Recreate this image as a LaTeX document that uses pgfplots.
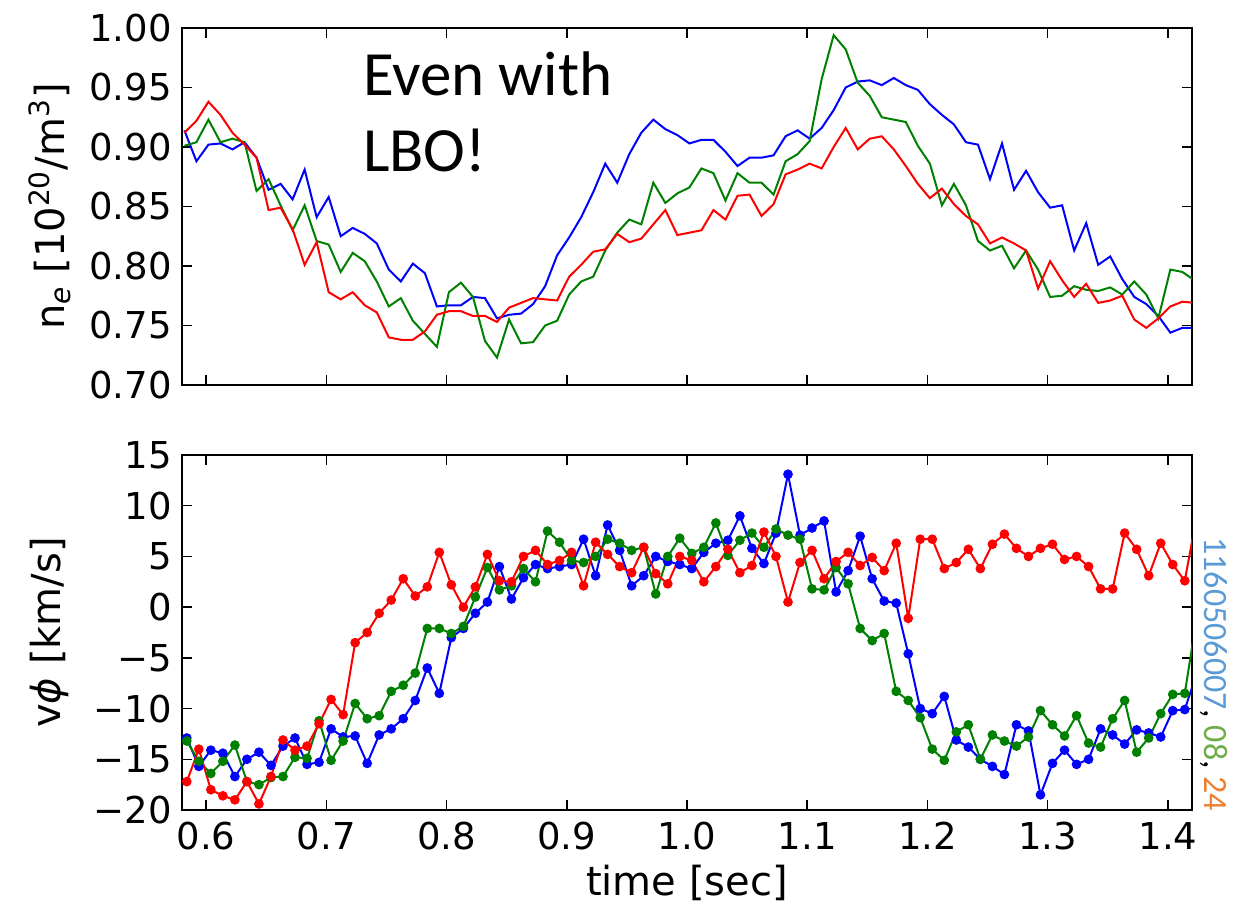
\documentclass[border=0pt]{standalone}
\usepackage{fontspec}
\setmainfont{DejaVu Sans}
\newfontfamily\calibri{Carlito}
\usepackage{pgfplots}
\pgfplotsset{compat=1.18}
\usepackage{pgfplotstable}

\definecolor{mplblue}{rgb}{0,0,1}
\definecolor{mplgreen}{rgb}{0,0.5,0}
\definecolor{mplred}{rgb}{1,0,0}
\definecolor{offblue}{HTML}{5B9BD5}
\definecolor{offgreen}{HTML}{70AD47}
\definecolor{offorange}{HTML}{ED7D31}

\pgfplotstableread{
t b g r
0.582 0.914 0.901 0.912
0.592 0.888 0.904 0.922
0.602 0.902 0.923 0.938
0.612 0.903 0.904 0.927
0.622 0.898 0.907 0.912
0.632 0.904 0.904 0.902
0.642 0.891 0.863 0.891
0.652 0.864 0.873 0.847
0.662 0.869 0.851 0.849
0.672 0.856 0.830 0.831
0.682 0.881 0.851 0.801
0.692 0.841 0.821 0.820
0.702 0.858 0.818 0.778
0.712 0.825 0.795 0.772
0.722 0.832 0.811 0.778
0.732 0.827 0.804 0.767
0.742 0.819 0.787 0.761
0.752 0.797 0.766 0.740
0.762 0.787 0.773 0.738
0.772 0.802 0.754 0.738
0.782 0.794 0.743 0.745
0.792 0.766 0.732 0.759
0.802 0.767 0.778 0.762
0.812 0.767 0.786 0.762
0.822 0.774 0.774 0.758
0.832 0.773 0.737 0.758
0.842 0.756 0.723 0.753
0.852 0.759 0.755 0.765
0.862 0.760 0.735 0.769
0.872 0.768 0.736 0.773
0.882 0.783 0.750 0.772
0.892 0.809 0.754 0.771
0.902 0.824 0.776 0.791
0.912 0.841 0.787 0.801
0.922 0.862 0.791 0.812
0.932 0.886 0.813 0.814
0.942 0.870 0.828 0.827
0.952 0.894 0.839 0.820
0.962 0.912 0.835 0.823
0.972 0.923 0.870 0.835
0.982 0.915 0.853 0.847
0.992 0.910 0.861 0.826
1.002 0.903 0.866 0.828
1.012 0.906 0.882 0.830
1.022 0.906 0.878 0.847
1.032 0.896 0.855 0.839
1.042 0.884 0.878 0.859
1.052 0.891 0.870 0.860
1.062 0.891 0.870 0.842
1.072 0.893 0.860 0.852
1.082 0.909 0.888 0.877
1.092 0.914 0.894 0.881
1.102 0.907 0.905 0.886
1.112 0.916 0.957 0.882
1.122 0.931 0.994 0.900
1.132 0.950 0.982 0.916
1.142 0.955 0.954 0.898
1.152 0.956 0.943 0.907
1.162 0.952 0.925 0.909
1.172 0.958 0.923 0.898
1.182 0.952 0.921 0.884
1.192 0.948 0.901 0.869
1.202 0.936 0.886 0.857
1.212 0.927 0.851 0.865
1.222 0.919 0.869 0.852
1.232 0.904 0.851 0.842
1.242 0.902 0.821 0.835
1.252 0.873 0.813 0.819
1.262 0.903 0.817 0.824
1.272 0.864 0.798 0.819
1.282 0.880 0.813 0.813
1.292 0.862 0.797 0.781
1.302 0.849 0.774 0.804
1.312 0.851 0.775 0.788
1.322 0.813 0.783 0.774
1.332 0.836 0.780 0.785
1.342 0.801 0.779 0.769
1.352 0.808 0.782 0.771
1.362 0.789 0.776 0.775
1.372 0.774 0.787 0.755
1.382 0.768 0.776 0.748
1.392 0.758 0.756 0.756
1.402 0.744 0.797 0.766
1.412 0.748 0.795 0.770
1.422 0.748 0.788 0.769
}\topdata

\pgfplotstableread{
t b g r
0.584 -12.9 -13.2 -17.2
0.594 -15.7 -15.2 -14.0
0.604 -14.1 -16.4 -18.0
0.614 -14.4 -15.2 -18.6
0.624 -16.7 -13.6 -19.0
0.634 -15.0 -17.2 -17.2
0.644 -14.3 -17.5 -19.4
0.654 -15.6 -16.8 -16.7
0.664 -13.7 -16.7 -13.1
0.674 -12.9 -14.8 -14.1
0.684 -15.5 -14.9 -13.7
0.694 -15.3 -11.2 -11.5
0.704 -12.0 -15.1 -9.1
0.714 -12.8 -13.2 -10.6
0.724 -12.7 -9.5 -3.5
0.734 -15.4 -11.0 -2.5
0.744 -12.6 -10.7 -0.6
0.754 -12.0 -8.3 0.7
0.764 -11.0 -7.7 2.8
0.774 -9.2 -6.5 1.1
0.784 -6.0 -2.1 2.0
0.794 -8.5 -2.1 5.4
0.804 -3.0 -2.6 2.2
0.814 -2.1 -1.9 0.0
0.824 -0.6 1.0 2.0
0.834 0.5 3.9 5.2
0.844 4.0 1.7 2.6
0.854 0.8 2.1 2.5
0.864 2.9 3.8 5.0
0.874 4.2 2.5 5.6
0.884 3.8 7.5 4.2
0.894 4.0 6.4 4.6
0.904 4.2 4.6 5.4
0.914 6.7 4.4 2.1
0.924 3.1 5.0 6.4
0.934 8.1 6.7 5.2
0.944 5.6 6.3 4.0
0.954 2.1 5.6 3.4
0.964 3.1 5.9 5.9
0.974 5.0 1.3 3.3
0.984 4.5 5.0 2.3
0.994 4.2 6.8 5.0
1.004 3.8 5.3 4.6
1.014 5.4 5.9 2.5
1.024 6.3 8.3 4.0
1.034 6.6 5.1 5.7
1.044 9.0 6.6 3.4
1.054 5.8 7.3 4.1
1.064 4.3 5.9 7.4
1.074 7.3 7.7 5.0
1.084 13.1 7.1 0.5
1.094 7.1 6.7 4.4
1.104 7.8 1.8 5.6
1.114 8.5 1.7 2.8
1.124 1.5 3.9 4.5
1.134 3.6 2.3 5.4
1.144 7.0 -2.1 4.1
1.154 2.8 -3.3 4.9
1.164 0.6 -2.6 3.6
1.174 0.4 -8.3 6.3
1.184 -4.6 -9.2 -1.1
1.194 -10.0 -10.9 6.7
1.204 -10.5 -14.0 6.7
1.214 -8.8 -15.1 3.8
1.224 -13.1 -12.3 4.4
1.234 -13.8 -11.6 5.7
1.244 -15.0 -15.0 3.8
1.254 -15.7 -12.6 6.2
1.264 -16.5 -13.2 7.2
1.274 -11.6 -13.7 5.8
1.284 -12.2 -12.8 5.0
1.294 -18.5 -10.2 5.8
1.304 -15.4 -11.6 6.2
1.314 -14.1 -12.7 4.7
1.324 -15.5 -10.7 5.0
1.334 -15.0 -13.4 4.0
1.344 -12.0 -13.8 1.8
1.354 -12.6 -11.0 1.8
1.364 -13.5 -9.2 7.3
1.374 -12.1 -14.3 5.7
1.384 -12.4 -12.9 3.1
1.394 -12.8 -10.5 6.3
1.404 -10.2 -8.6 4.2
1.414 -10.1 -8.5 2.6
1.424 -6.5 -1.0 9.0
}\botdata

\pgfplotsset{
  myax/.style={
    scale only axis,
    width=505pt,
    xmin=0.58, xmax=1.42,
    axis line style={line width=1pt, black},
    every tick/.style={line width=0.75pt, black},
    major tick length=5pt,
    tick align=inside,
    xtick pos=both, ytick pos=both,
    xtick={0.6,0.7,0.8,0.9,1.0,1.1,1.2,1.3,1.4},
    ticklabel style={font=\fontsize{18.5}{22}\selectfont},
    yticklabel style={inner sep=0pt, xshift=-5pt},
    xticklabel style={inner sep=0pt, yshift=-6pt},
    label style={font=\fontsize{20}{24}\selectfont},
    ylabel style={at={(axis description cs:-0.131,0.5)}, anchor=center},
    clip=true,
  },
  tline/.style={line width=1pt},
  bline/.style={line width=1pt, mark=*, mark size=1.9pt, mark options={solid, line width=0.4pt}},
}

\begin{document}
\begin{tikzpicture}
\useasboundingbox (0,0) rectangle (621.5pt,453pt);

\begin{axis}[myax,
  at={(91pt,260.5pt)}, anchor=south west,
  height=178.5pt,
  ymin=0.70, ymax=1.00,
  ytick={0.70,0.75,0.80,0.85,0.90,0.95,1.00},
  yticklabels={0.70,0.75,0.80,0.85,0.90,0.95,1.00},
  xticklabels={},
  ylabel={n\textsubscript{\itshape e} [10\textsuperscript{20}/m\textsuperscript{3}]},
]
\addplot[tline, mplblue] table[x=t, y=b] {\topdata};
\addplot[tline, mplgreen] table[x=t, y=g] {\topdata};
\addplot[tline, mplred] table[x=t, y=r] {\topdata};
\node[anchor=base west, inner sep=0pt, font=\calibri\fontsize{31.5}{38}\selectfont] at (rel axis cs:0.179,0.812) {Even with};
\node[anchor=base west, inner sep=0pt, font=\calibri\fontsize{31.5}{38}\selectfont] at (rel axis cs:0.179,0.5975) {LBO!};
\end{axis}

\begin{axis}[myax,
  at={(91pt,48pt)}, anchor=south west,
  height=177.5pt,
  ymin=-20, ymax=15,
  ytick={-20,-15,-10,-5,0,5,10,15},
  yticklabels={−20,−15,−10,−5,0,5,10,15},
  xticklabels={0.6,0.7,0.8,0.9,1.0,1.1,1.2,1.3,1.4},
  xlabel={time [sec]},
  xlabel style={at={(rel axis cs:0.5,0)}, anchor=north, inner sep=0pt, yshift=-27.5pt},
  ylabel={v{\itshape ϕ} [km/s]},
]
\addplot[bline, mplblue, mark options={fill=mplblue, draw=mplblue}] table[x=t, y=b] {\botdata};
\addplot[bline, mplgreen, mark options={fill=mplgreen, draw=mplgreen}] table[x=t, y=g] {\botdata};
\addplot[bline, mplred, mark options={fill=mplred, draw=mplred}] table[x=t, y=r] {\botdata};
\end{axis}

\node[rotate=-90, anchor=base west, inner sep=0pt, font=\calibri\fontsize{17}{20}\selectfont] at (602pt,184.5pt) {\textcolor{offblue}{1160506007}, \textcolor{offgreen}{08}, \textcolor{offorange}{24}};
\end{tikzpicture}
\end{document}
